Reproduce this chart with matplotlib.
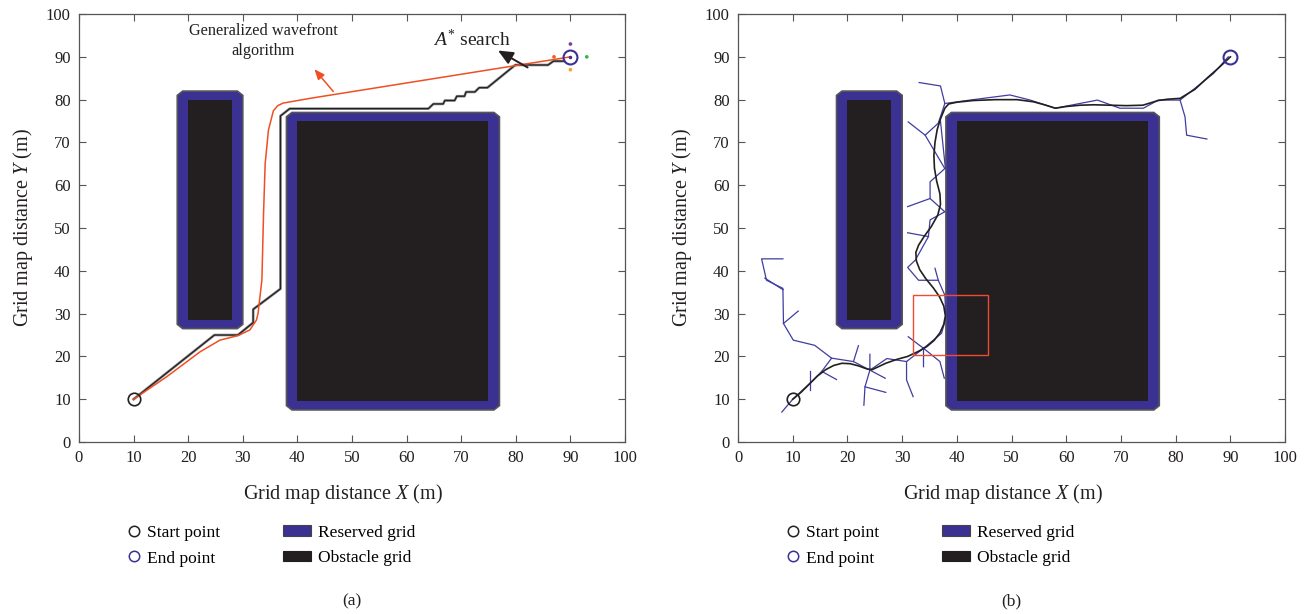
import matplotlib
matplotlib.use("Agg")
import matplotlib.pyplot as plt
from matplotlib.patches import Polygon, Rectangle, Patch
from matplotlib.lines import Line2D

plt.rcParams['font.family'] = ['Liberation Serif', 'DejaVu Serif']
plt.rcParams['mathtext.fontset'] = 'custom'
plt.rcParams['mathtext.rm'] = 'Liberation Serif'
plt.rcParams['mathtext.it'] = 'Liberation Serif:italic'

# 障害物 (x0, y0, x1, y1)
obstacles = [(20, 28.5, 28, 80), (40, 9.5, 75, 75)]
reserved = [(18, 26.5, 30, 82), (38, 7.5, 77, 77)]
start = (10, 10)
goal = (90, 90)

# (a) A* 探索の経路
astar_x = [10, 24.8, 29.1, 31.9, 31.9, 36.9, 36.9, 38.6, 64.0, 64.9, 66.7, 67.0, 68.8, 69.2,
           70.6, 70.9, 72.5, 73.3, 74.8, 79.9, 85.9, 86.9, 88.8]
astar_y = [10, 25.0, 25.0, 27.9, 31.0, 35.8, 76.2, 77.9, 77.9, 79.0, 79.0, 79.8, 79.8, 80.8,
           80.8, 81.8, 81.8, 82.8, 82.8, 88.1, 88.1, 89.0, 89.0]
# (a) generalized wavefront の経路
wave_x = [10, 16, 22.2, 25.8, 29.2, 31.3, 32.5, 32.8, 33.5, 33.8, 34.1, 34.7, 35.6, 36.4, 37.4,
          42.3, 90]
wave_y = [10, 15.2, 21.1, 23.8, 24.9, 26.2, 28.5, 30.1, 37.9, 53.4, 65.1, 72.9, 77.4, 78.6, 79.2,
          80.3, 90]
# 終点まわりの探索点
probe_x = [87, 90, 93, 90]
probe_y = [90, 93, 90, 87]
probe_c = ['#f15a29', '#7b3f98', '#39b54a', '#f7a51d']

# (b) RRT の木 (枝ごとの折れ線)
tree = [
    [(8.0, 7.0), (10, 10), (13.2, 13.8), (15.3, 16.5), (17.1, 19.6), (14.0, 22.6), (10.1, 23.8),
     (8.3, 27.7), (8.2, 35.9), (5.2, 37.8), (4.3, 42.8), (8.2, 42.8)],
    [(8.3, 27.7), (11.0, 30.6)],
    [(8.2, 35.6), (4.9, 38.3)],
    [(13.2, 12.2), (13.2, 16.6)],
    [(15.3, 16.5), (18.0, 14.6)],
    [(17.1, 19.6), (21.1, 18.8), (24.1, 16.8), (27.2, 19.5), (30.8, 18.8), (33.9, 21.9),
     (37.2, 25.4), (38.0, 29.0), (37.8, 34.3), (36.6, 37.8), (33.0, 37.8), (31.0, 40.8),
     (32.4, 42.5), (34.8, 48.0), (35.1, 51.9), (37.8, 53.8), (35.1, 56.9), (35.1, 60.8),
     (37.8, 63.9), (34.2, 71.7), (36.6, 74.5), (37.8, 79.1), (42.4, 79.9), (49.7, 81.1),
     (53.4, 79.9), (58.0, 78.0), (65.7, 79.9), (69.8, 78.0), (74.1, 78.0), (76.8, 79.9),
     (80.8, 79.9), (86.9, 86.1), (89.6, 90.0)],
    [(21.1, 18.8), (22.0, 22.5)],
    [(24.1, 20.5), (24.1, 16.8), (26.9, 14.9)],
    [(24.1, 16.8), (23.2, 12.9), (23.0, 8.6)],
    [(23.2, 12.9), (27.0, 11.6)],
    [(30.8, 18.8), (30.8, 14.5), (32.0, 10.6)],
    [(31.1, 24.6), (33.9, 21.9), (33.9, 17.6)],
    [(33.9, 21.9), (36.9, 18.8), (37.7, 14.9)],
    [(36.6, 37.8), (36.0, 40.6)],
    [(34.8, 48.0), (31.0, 48.9)],
    [(35.1, 56.9), (31.0, 55.0)],
    [(34.2, 71.7), (31.1, 74.8)],
    [(37.0, 75.0), (37.9, 64.0)],
    [(37.8, 79.1), (37.0, 83.2), (33.1, 84.0)],
    [(80.8, 79.9), (81.7, 76.0), (82.0, 71.7), (85.7, 70.8)],
]
# (b) 平滑化した経路
smooth_x = [10, 11.5, 13, 14.5, 16, 17.5, 19, 20.5, 22, 23.5, 24.5, 25.5, 27, 29, 31, 33, 34.5,
            35.8, 36.9, 37.6, 37.9, 37.6, 36.8, 35.7, 34.3, 33.2, 32.6, 32.5, 33.0, 34.0, 35.3,
            36.5, 37.0, 36.9, 36.3, 35.9, 35.8, 36.0, 36.4, 37.0, 37.8, 38.5, 40, 43, 47, 51,
            54, 56, 58, 60, 62.5, 65, 68, 71, 74, 76.8, 78.5, 80.8, 83.5, 85.7, 88, 90]
smooth_y = [10, 11.6, 13.5, 15.4, 16.9, 17.9, 18.4, 18.3, 17.8, 17.1, 16.9, 17.5, 18.4, 19.3,
            20.0, 21.2, 22.3, 23.7, 25.5, 27.5, 29.5, 31.8, 34.0, 36.0, 38.2, 40.3, 42.3, 44.3,
            46.0, 48.0, 50.3, 53.0, 55.5, 58.0, 61.0, 64.0, 67.0, 70.0, 73.0, 75.5, 78.0, 79.0,
            79.4, 79.8, 80.0, 80.0, 79.5, 78.8, 78.0, 78.4, 78.7, 78.8, 78.7, 78.6, 78.7, 79.8,
            80.1, 80.3, 82.4, 85.0, 87.6, 90]
zoom_box = (32, 20.3, 13.7, 14)

blue = '#3b3192'
dark = '#231f20'
red = '#f04e23'
tree_c = '#3f3da0'


def chamfer(x0, y0, x1, y1, c=1.0):
    return [(x0 + c, y0), (x1 - c, y0), (x1, y0 + c), (x1, y1 - c), (x1 - c, y1),
            (x0 + c, y1), (x0, y1 - c), (x0, y0 + c)]


def draw_map(ax):
    for r in reserved:
        ax.add_patch(Polygon(chamfer(*r), closed=True, facecolor=blue, edgecolor='#555555',
                             lw=1.2, zorder=1))
    for o in obstacles:
        ax.add_patch(Rectangle((o[0], o[1]), o[2] - o[0], o[3] - o[1], facecolor=dark,
                               edgecolor='none', zorder=1.5))


def style_axes(ax, caption):
    ax.set_xlim(0, 100)
    ax.set_ylim(0, 100)
    ax.set_xticks(range(0, 101, 10))
    ax.set_yticks(range(0, 101, 10))
    ax.tick_params(direction='in', top=True, right=True, length=5, width=0.8,
                   labelsize=12, colors='#555555', labelcolor=dark, pad=6)
    for s in ax.spines.values():
        s.set_color('#555555')
        s.set_linewidth(0.9)
    ax.set_xlabel('Grid map distance $X$ (m)', fontsize=14.5, color=dark)
    ax.set_ylabel('Grid map distance $Y$ (m)', fontsize=14.5, color=dark, labelpad=8)
    ax.xaxis.set_label_coords(0.484, -0.093)
    ax.plot(*start, 'o', ms=9, mfc='none', mec=dark, mew=1.2, zorder=6)
    ax.plot(*goal, 'o', ms=10, mfc='none', mec=blue, mew=1.5, zorder=6)
    pts = [Line2D([], [], ls='none', marker='o', ms=7.5, mfc='none', mec=dark, mew=1.1),
           Line2D([], [], ls='none', marker='o', ms=7.5, mfc='none', mec=blue, mew=1.1)]
    grids = [Patch(facecolor=blue, edgecolor='#444444', lw=0.8),
             Patch(facecolor=dark, edgecolor=dark, lw=0.8)]
    leg1 = ax.legend(pts, ['Start point', 'End point'], loc='upper left',
                     bbox_to_anchor=(0.072, -0.177), frameon=False, fontsize=12.5,
                     handlelength=1.0, handletextpad=0.25, labelspacing=0.55, borderaxespad=0)
    ax.add_artist(leg1)
    ax.legend(grids, ['Reserved grid', 'Obstacle grid'], loc='upper left',
              bbox_to_anchor=(0.361, -0.177), frameon=False, fontsize=12.5,
              handlelength=1.6, handleheight=0.55, handletextpad=0.4, labelspacing=0.55,
              borderaxespad=0)
    ax.text(0.5, -0.373, caption, transform=ax.transAxes, ha='center', va='center',
            fontsize=12.5, color=dark)


fig = plt.figure(figsize=(13.1, 6.14), dpi=100)
ax1 = fig.add_axes([0.0603, 0.2801, 0.4168, 0.697])
ax2 = fig.add_axes([0.5634, 0.2801, 0.4176, 0.697])

# (a)
draw_map(ax1)
ax1.plot(astar_x, astar_y, color='#8a8a8a', lw=1.9, zorder=3)
ax1.plot(astar_x, astar_y, color=dark, lw=0.9, zorder=3.5)
ax1.plot(wave_x, wave_y, color=red, lw=1.1, zorder=4)
ax1.scatter(probe_x, probe_y, s=7, c=probe_c, zorder=5, linewidths=0)
ax1.plot(*goal, '.', ms=3, color=blue, zorder=6)
ax1.annotate('', xy=(42.8, 87.6), xytext=(46.9, 81.4),
             arrowprops=dict(arrowstyle='-|>,head_length=0.6,head_width=0.25', color=red, lw=1.1),
             zorder=5)
ax1.text(33.7, 93.7, 'Generalized wavefront\nalgorithm', ha='center', va='center',
         fontsize=11.7, color=dark, linespacing=1.35)
ax1.annotate('', xy=(76.3, 91.8), xytext=(82.6, 87.2),
             arrowprops=dict(arrowstyle='-|>,head_length=0.9,head_width=0.4', color=dark, lw=1.4),
             zorder=5)
ax1.text(72.0, 94.0, '$A^{*}$ search', ha='center', va='center', fontsize=14, color=dark)
style_axes(ax1, '(a)')

# (b)
draw_map(ax2)
for br in tree:
    ax2.plot([p[0] for p in br], [p[1] for p in br], color=tree_c, lw=0.9, zorder=3)
ax2.plot(smooth_x, smooth_y, color=dark, lw=1.2, zorder=4)
ax2.add_patch(Rectangle(zoom_box[:2], zoom_box[2], zoom_box[3], facecolor='none',
                        edgecolor='#ee4b33', lw=1.0, zorder=5))
style_axes(ax2, '(b)')

fig.savefig('out.png', dpi=100)
